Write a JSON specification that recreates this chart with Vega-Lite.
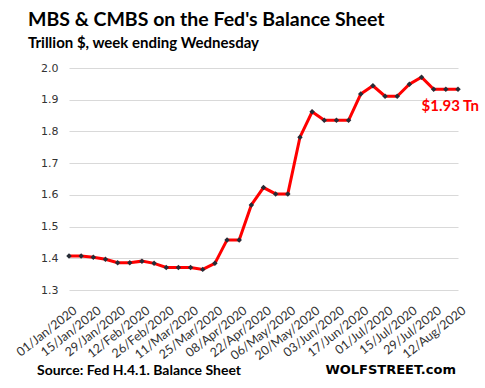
{
  "$schema": "https://vega.github.io/schema/vega-lite/v6.json",
  "autosize": {"type": "none"},
  "width": 389,
  "height": 222,
  "padding": {"left": 69, "top": 68, "right": 27, "bottom": 98},
  "background": "white",
  "title": {
    "text": "MBS & CMBS on the Fed's Balance Sheet",
    "subtitle": "Trillion $, week ending Wednesday",
    "anchor": "start",
    "frame": "group",
    "dx": -41,
    "font": "Lato",
    "fontSize": 19.5,
    "fontWeight": "bold",
    "color": "#000000",
    "subtitleFont": "Lato",
    "subtitleFontSize": 15,
    "subtitleFontWeight": "bold",
    "subtitleColor": "#000000",
    "subtitlePadding": 6,
    "offset": 10
  },
  "config": {
    "view": {"stroke": null}
  },
  "data": {
    "values": [
      {"date": "01/Jan/2020", "value": 1.407},
      {"date": "08/Jan/2020", "value": 1.407},
      {"date": "15/Jan/2020", "value": 1.403},
      {"date": "22/Jan/2020", "value": 1.397},
      {"date": "29/Jan/2020", "value": 1.386},
      {"date": "05/Feb/2020", "value": 1.386},
      {"date": "12/Feb/2020", "value": 1.391},
      {"date": "19/Feb/2020", "value": 1.384},
      {"date": "26/Feb/2020", "value": 1.371},
      {"date": "04/Mar/2020", "value": 1.371},
      {"date": "11/Mar/2020", "value": 1.371},
      {"date": "18/Mar/2020", "value": 1.365},
      {"date": "25/Mar/2020", "value": 1.384},
      {"date": "01/Apr/2020", "value": 1.458},
      {"date": "08/Apr/2020", "value": 1.458},
      {"date": "15/Apr/2020", "value": 1.568},
      {"date": "22/Apr/2020", "value": 1.623},
      {"date": "29/Apr/2020", "value": 1.603},
      {"date": "06/May/2020", "value": 1.603},
      {"date": "13/May/2020", "value": 1.782},
      {"date": "20/May/2020", "value": 1.862},
      {"date": "27/May/2020", "value": 1.835},
      {"date": "03/Jun/2020", "value": 1.835},
      {"date": "10/Jun/2020", "value": 1.835},
      {"date": "17/Jun/2020", "value": 1.918},
      {"date": "24/Jun/2020", "value": 1.944},
      {"date": "01/Jul/2020", "value": 1.911},
      {"date": "08/Jul/2020", "value": 1.911},
      {"date": "15/Jul/2020", "value": 1.949},
      {"date": "22/Jul/2020", "value": 1.971},
      {"date": "29/Jul/2020", "value": 1.933},
      {"date": "05/Aug/2020", "value": 1.933},
      {"date": "12/Aug/2020", "value": 1.933}
    ]
  },
  "encoding": {
    "x": {
      "field": "date",
      "type": "ordinal",
      "sort": null,
      "scale": {"type": "point", "padding": 0},
      "axis": {
        "title": null,
        "values": ["01/Jan/2020", "15/Jan/2020", "29/Jan/2020", "12/Feb/2020", "26/Feb/2020", "11/Mar/2020", "25/Mar/2020", "08/Apr/2020", "22/Apr/2020", "06/May/2020", "20/May/2020", "03/Jun/2020", "17/Jun/2020", "01/Jul/2020", "15/Jul/2020", "29/Jul/2020", "12/Aug/2020"],
        "labelAngle": -38,
        "labelAlign": "right",
        "labelBaseline": "top",
        "labelFont": "Lato",
        "labelFontSize": 12.5,
        "labelColor": "#333333",
        "labelPadding": 14,
        "labelOffset": 2,
        "labelOverlap": false,
        "labelBound": false,
        "domain": false,
        "ticks": false,
        "grid": false
      }
    },
    "y": {
      "field": "value",
      "type": "quantitative",
      "scale": {"domain": [1.3, 2.0], "nice": false, "zero": false},
      "axis": {
        "title": null,
        "values": [1.3, 1.4, 1.5, 1.6, 1.7, 1.8, 1.9, 2.0],
        "format": ".1f",
        "labelFont": "DejaVu Sans",
        "labelFontSize": 11,
        "labelColor": "#333333",
        "labelPadding": 11,
        "domain": false,
        "ticks": false,
        "grid": true,
        "gridColor": "#d9d9d9",
        "gridWidth": 1
      }
    }
  },
  "layer": [
    {
      "mark": {"type": "line", "color": "#ff0000", "strokeWidth": 3}
    },
    {
      "mark": {"type": "point", "shape": "diamond", "filled": true, "color": "#262c36", "size": 30, "opacity": 1}
    },
    {
      "transform": [{"filter": "datum.date == '12/Aug/2020'"}],
      "mark": {"type": "text", "align": "right", "baseline": "middle", "dx": 21, "dy": 17, "font": "Lato", "fontSize": 15, "fontWeight": "bold", "color": "#ff0000"},
      "encoding": {"text": {"value": "$1.93 Tn"}}
    },
    {
      "transform": [{"filter": "datum.date == '01/Jan/2020'"}],
      "mark": {"type": "text", "align": "left", "baseline": "middle", "dx": -32, "dy": 0, "font": "Lato", "fontSize": 14, "fontWeight": "bold", "color": "#000000"},
      "encoding": {
        "y": {"datum": 1.045},
        "text": {"value": "Source: Fed H.4.1. Balance Sheet"}
      }
    },
    {
      "transform": [{"filter": "datum.date == '12/Aug/2020'"}],
      "mark": {"type": "text", "align": "right", "baseline": "middle", "dx": -2, "dy": 0, "font": "DejaVu Sans", "fontSize": 13, "fontWeight": "bold", "color": "#000000"},
      "encoding": {
        "y": {"datum": 1.048},
        "text": {"value": "WOLFSTREET.com"}
      }
    }
  ]
}
